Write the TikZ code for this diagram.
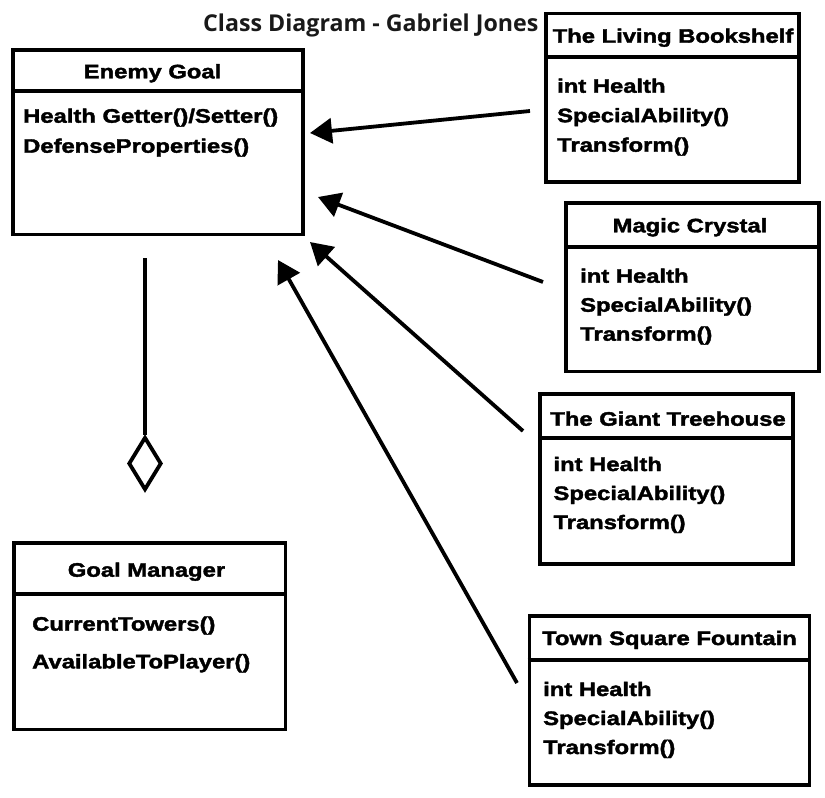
\documentclass[tikz,border=0pt]{standalone}
\usepackage{fontspec}
\usetikzlibrary{arrows.meta,shapes.geometric}
\newfontfamily\bxfont{Liberation Sans}[FakeStretch=1.22,BoldFeatures={FakeBold=2}]
\newfontfamily\ttlfont{Open Sans}
\begin{document}
\begin{tikzpicture}[x=1pt,y=-1pt,
  cbox/.style={draw=black,line width=3.8pt,rectangle,inner sep=0pt,fill=white},
  ctitle/.style={anchor=base,inner sep=0pt,font=\bxfont\bfseries\fontsize{19.5}{22}\selectfont},
  cline/.style={anchor=base west,inner sep=0pt,font=\bxfont\bfseries\fontsize{19.5}{22}\selectfont},
  divider/.style={line width=3.8pt},
  inherit/.style={line width=3.8pt,-{Triangle[length=22pt,width=25pt]}},
  agg/.style={line width=3.8pt}]
\useasboundingbox[fill=white] (0,0) rectangle (825,798);

% title
\node[anchor=base west,inner sep=0pt,font=\ttlfont\bfseries\fontsize{23.2}{26}\selectfont,text=black!90] (title) at (203,31.7) {Class Diagram - Gabriel Jones};

% Enemy Goal
\node[cbox,minimum width=290pt,minimum height=184.5pt] (eg) at (158,142.25) {};
\draw[divider] ([yshift=-43pt]eg.north west) -- ([yshift=-43pt]eg.north east);
\node[ctitle] (egt) at (152.5,78.3) {Enemy Goal};
\node[cline] (eg1) at (23,122.7) {Health Getter()/Setter()};
\node[cline] (eg2) at (23,152.7) {DefenseProperties()};

% The Living Bookshelf
\node[cbox,minimum width=253pt,minimum height=168.5pt] (lb) at (672.5,97.75) {};
\draw[divider] ([yshift=-45.5pt]lb.north west) -- ([yshift=-45.5pt]lb.north east);
\node[ctitle] (lbt) at (673,42.7) {The Living Bookshelf};
\node[cline] (lb1) at (557,92.7) {int Health};
\node[cline] (lb2) at (557,122.2) {SpecialAbility()};
\node[cline] (lb3) at (557,151.7) {Transform()};

% Magic Crystal
\node[cbox,minimum width=253pt,minimum height=168.5pt] (mc) at (692.5,287.25) {};
\draw[divider] ([yshift=-46pt]mc.north west) -- ([yshift=-46pt]mc.north east);
\node[ctitle] (mct) at (690,232.3) {Magic Crystal};
\node[cline] (mc1) at (580,282.7) {int Health};
\node[cline] (mc2) at (580,311.7) {SpecialAbility()};
\node[cline] (mc3) at (580,340.7) {Transform()};

% The Giant Treehouse
\node[cbox,minimum width=253pt,minimum height=170pt] (gt) at (666.5,479) {};
\draw[divider] ([yshift=-46pt]gt.north west) -- ([yshift=-46pt]gt.north east);
\node[ctitle] (gtt) at (668,425.7) {The Giant Treehouse};
\node[cline] (gt1) at (553.3,471) {int Health};
\node[cline] (gt2) at (553.3,500) {SpecialAbility()};
\node[cline] (gt3) at (553.3,529) {Transform()};

% Town Square Fountain
\node[cbox,minimum width=280pt,minimum height=169pt] (tf) at (669.5,700.5) {};
\draw[divider] ([yshift=-45.5pt]tf.north west) -- ([yshift=-45.5pt]tf.north east);
\node[ctitle] (tft) at (669.5,645) {Town Square Fountain};
\node[cline] (tf1) at (543,696) {int Health};
\node[cline] (tf2) at (543,725) {SpecialAbility()};
\node[cline] (tf3) at (543,754) {Transform()};

% Goal Manager
\node[cbox,minimum width=271.5pt,minimum height=186.5pt] (gm) at (149.75,636.25) {};
\draw[divider] ([yshift=-52.5pt]gm.north west) -- ([yshift=-52.5pt]gm.north east);
\node[ctitle] (gmt) at (146.5,576.7) {Goal Manager};
\node[cline] (gm1) at (32,630.7) {CurrentTowers()};
\node[cline] (gm2) at (32,668.3) {AvailableToPlayer()};

% aggregation
\coordinate (aggtop) at (145,258);
\node[draw,line width=3.8pt,shape=diamond,inner sep=0pt,minimum width=33pt,minimum height=53pt] (dia) at (145,463.5) {};
\draw[agg] (aggtop) -- (dia.north);

% inheritance arrows
\coordinate (t1) at (530,111);   \coordinate (h1) at (310,133);
\coordinate (t2) at (543,282);   \coordinate (h2) at (318,197);
\coordinate (t3) at (523,431);   \coordinate (h3) at (310,242);
\coordinate (t4) at (517,683);   \coordinate (h4) at (278,260);
\draw[inherit] (t1) -- (h1);
\draw[inherit] (t2) -- (h2);
\draw[inherit] (t3) -- (h3);
\draw[inherit] (t4) -- (h4);
\end{tikzpicture}
\end{document}
